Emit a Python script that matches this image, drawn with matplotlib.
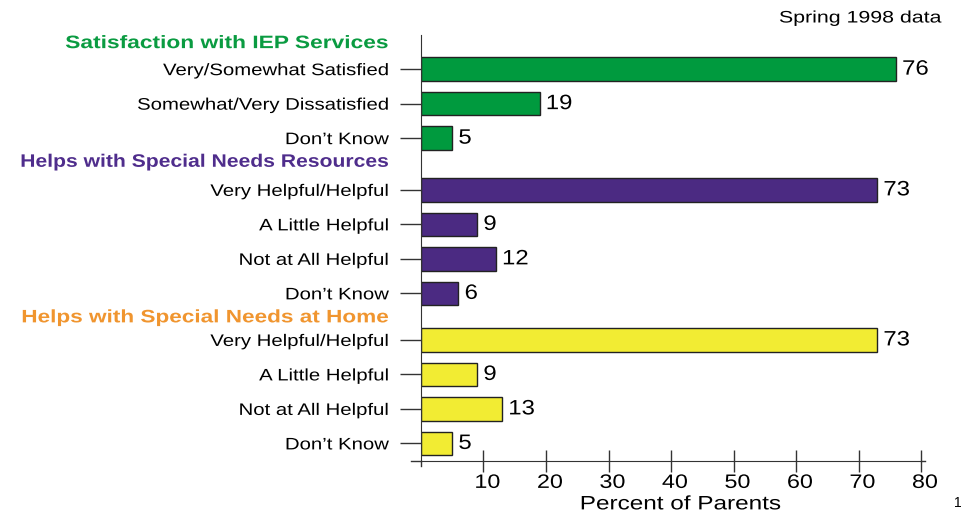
import matplotlib.pyplot as plt
import matplotlib.transforms as mtransforms
from matplotlib.patheffects import AbstractPathEffect

plt.rcParams['font.family'] = ['Liberation Sans', 'DejaVu Sans']

# group headings, answers and percentages
headings = ['Satisfaction with IEP Services',
            'Helps with Special Needs Resources',
            'Helps with Special Needs at Home']
heading_colors = ['#0a9b41', '#4f2d8c', '#f0952f']
bar_colors = ['#009a3e', '#4b2a82', '#f2ec33']

labels_iep = ['Very/Somewhat Satisfied', 'Somewhat/Very Dissatisfied', "Don\u2019t Know"]
values_iep = [76, 19, 5]
labels_res = ['Very Helpful/Helpful', 'A Little Helpful', 'Not at All Helpful', "Don\u2019t Know"]
values_res = [73, 9, 12, 6]
labels_home = ['Very Helpful/Helpful', 'A Little Helpful', 'Not at All Helpful', "Don\u2019t Know"]
values_home = [73, 9, 13, 5]

groups = [(labels_iep, values_iep), (labels_res, values_res), (labels_home, values_home)]
group_starts = [0, 3.5, 7.85]
heading_offsets = [-0.74, -0.8, -0.64]
heading_stretch = [1.26, 1.17, 1.25]


class Stretch(AbstractPathEffect):
    # widen text horizontally about one edge, the original looks stretched
    def __init__(self, sx, anchor='left'):
        super().__init__()
        self.sx = sx
        self.anchor = anchor

    def draw_path(self, renderer, gc, tpath, affine, rgbFace=None):
        ext = affine.transform_path(tpath).get_extents()
        x0 = {'left': ext.x0, 'right': ext.x1, 'center': (ext.x0 + ext.x1) / 2}[self.anchor]
        new = affine + mtransforms.Affine2D().translate(-x0, 0).scale(self.sx, 1).translate(x0, 0)
        renderer.draw_path(gc, tpath, new, rgbFace)


fig = plt.figure(figsize=(9.62, 5.15), dpi=100)
ax = fig.add_axes([421 / 962, 1 - 461 / 515, 500 / 962, (461 - 35) / 515])

ticks, ticklabels = [], []
for g, ((labs, vals), start) in enumerate(zip(groups, group_starts)):
    ys = [start + i for i in range(len(vals))]
    ax.barh(ys, vals, height=0.68, color=bar_colors[g], edgecolor='#222222', linewidth=1)
    for y, v in zip(ys, vals):
        ax.text(v + 1.0, y, str(v), va='center', ha='left', fontsize=15,
                path_effects=[Stretch(1.15, 'left')])
    ticks += ys
    ticklabels += labs
    ax.text(-5.3, start + heading_offsets[g], headings[g], ha='right', va='center',
            fontsize=13, fontweight='bold', color=heading_colors[g],
            path_effects=[Stretch(heading_stretch[g], 'right')])

ax.set_xlim(0, 80)
ax.set_ylim(11.36, -0.99)
ax.set_yticks(ticks)
ax.set_yticklabels(ticklabels, fontsize=12)
ax.set_xticks(range(10, 81, 10))
ax.tick_params(axis='y', direction='out', length=15, width=1, pad=8, color='#333333')
ax.tick_params(axis='x', direction='inout', length=16, width=1, pad=2, labelsize=14, color='#333333')
for lab in ax.get_xticklabels():
    lab.set_transform(lab.get_transform() + mtransforms.ScaledTranslation(4 / 100, 0, fig.dpi_scale_trans))
    lab.set_path_effects([Stretch(1.2, 'center')])
for lab in ax.get_yticklabels():
    lab.set_path_effects([Stretch(1.22, 'right')])

for s in ['top', 'right']:
    ax.spines[s].set_visible(False)
ax.spines['left'].set_color('#333333')
ax.spines['bottom'].set_color('#333333')
# axis line extends a little past the y axis
ax.plot([-0.02, 0], [0, 0], transform=ax.transAxes, color='#333333', lw=1, clip_on=False)
ax.plot([1, 1.008], [0, 0], transform=ax.transAxes, color='#333333', lw=1, clip_on=False)
ax.plot([0, 0], [0, -0.012], transform=ax.transAxes, color='#333333', lw=1, clip_on=False)

xl = ax.set_xlabel('Percent of Parents', fontsize=14)
xl.set_path_effects([Stretch(1.25, 'center')])
ax.xaxis.set_label_coords(0.52, -0.103)
ax.xaxis.label.set_va('center')
fig.text(942 / 962, 1 - 18 / 515, 'Spring 1998 data', ha='right', va='center', fontsize=12,
         path_effects=[Stretch(1.28, 'right')])
fig.text(958 / 962, 1 - 503 / 515, '1', ha='center', va='center', fontsize=10)

fig.savefig('out.png', dpi=100)
